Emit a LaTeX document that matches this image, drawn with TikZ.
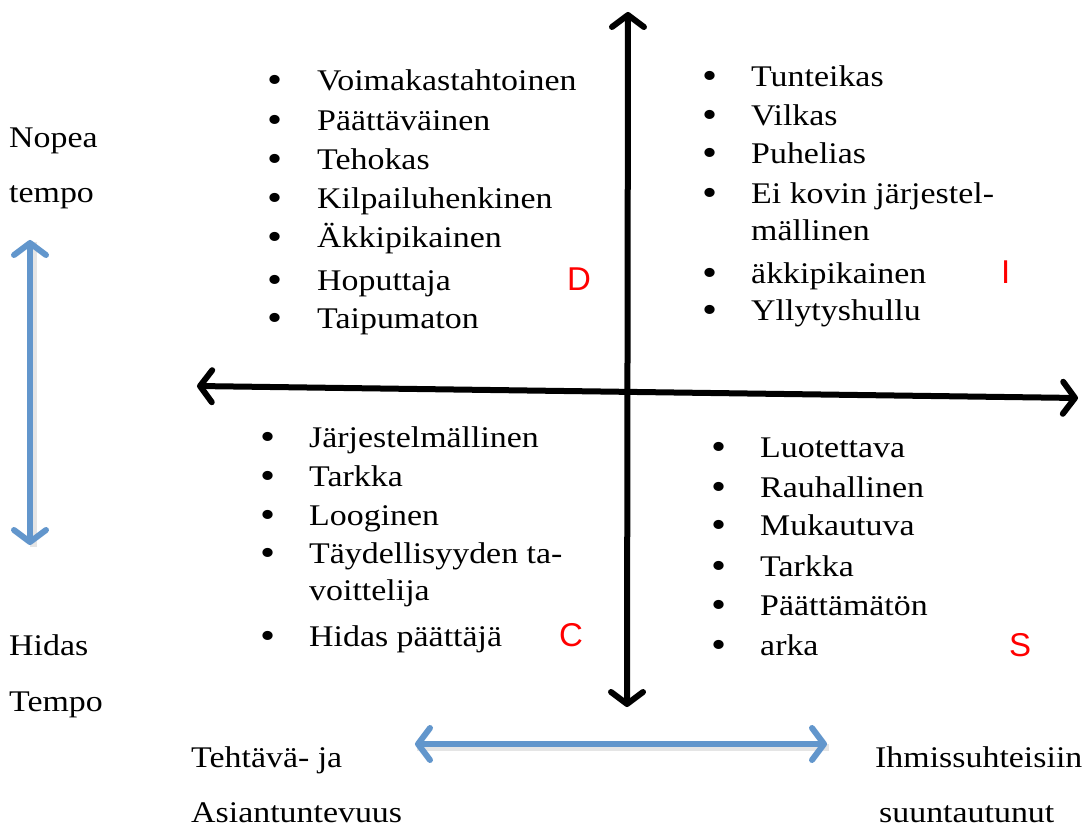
\documentclass[tikz,border=0pt]{standalone}
\usepackage{fontspec}
\setmainfont{Liberation Serif}[FakeStretch=1.13]
\newfontfamily\lettersans{Liberation Sans}
\usetikzlibrary{arrows.meta}
\definecolor{axisblue}{RGB}{98,150,204}
\begin{document}
\begin{tikzpicture}[x=1pt,y=-1pt,
  txt/.style={anchor=base west,inner sep=0pt,font=\fontsize{30}{36}\selectfont},
  dot/.style={anchor=base,inner sep=0pt,font=\fontsize{38}{40}\selectfont},
  quad/.style={anchor=base west,inner sep=0pt,text=red,font=\lettersans\fontsize{33}{36}\selectfont},
  barb/.tip={Straight Barb[length=12,width=32,line width=0pt 1,round]},
  axisline/.style={line width=6pt,black,barb-barb},
  tempoline/.style={line width=6pt,axisblue,barb-barb},
  shade/.style={line width=7pt,black,opacity=0.10}]
\useasboundingbox (0,0) rectangle (1088,827);

% axes
\coordinate (vtop) at (628,12);
\coordinate (vbot) at (627,707);
\coordinate (hleft) at (197,386);
\coordinate (hright) at (1078,398);
\coordinate (tfast) at (30,240);
\coordinate (tslow) at (30,545);
\coordinate (ptask) at (415,744);
\coordinate (ppeople) at (827,744);
\draw[shade] ([shift={(2,3)}]ptask) -- ([shift={(2,3)}]ppeople);
\draw[shade] ([shift={(3,2)}]tfast) -- ([shift={(3,2)}]tslow);
\draw[axisline] (vtop) -- (vbot);
\draw[axisline] (hleft) -- (hright);
\draw[tempoline] (tfast) -- (tslow);
\draw[tempoline] (ptask) -- (ppeople);

% side labels
\node[txt] (nopea) at (9,147) {Nopea};
\node[txt] (tempo1) at (9,202) {tempo};
\node[txt] (hidas) at (9,655) {Hidas};
\node[txt] (tempo2) at (9,711) {Tempo};
\node[txt] (task1) at (191,767) {Tehtävä- ja};
\node[txt] (task2) at (191,822) {Asiantuntevuus};
\node[txt] (people1) at (875,767) {Ihmissuhteisiin};
\node[txt] (people2) at (879,822) {suuntautunut};

% D quadrant
\foreach \t/\y [count=\i] in {Voimakastahtoinen/90,Päättäväinen/130,Tehokas/169,Kilpailuhenkinen/208,Äkkipikainen/247,Hoputtaja/290,Taipumaton/328}{
  \node[dot] (bd\i) at (275,\y+2) {•};
  \node[txt] (d\i) at (317,\y) {\t};
}
\node[quad] (D) at (567,290) {D};

% I quadrant
\foreach \t/\y [count=\i] in {Tunteikas/86,Vilkas/125,Puhelias/163,Ei kovin järjestel-/203,äkkipikainen/283,Yllytyshullu/320}{
  \node[dot] (bi\i) at (710,\y+2) {•};
}
\foreach \t/\y [count=\i] in {Tunteikas/86,Vilkas/125,Puhelias/163,Ei kovin järjestel-/203,mällinen/240,äkkipikainen/283,Yllytyshullu/320}{
  \node[txt] (i\i) at (751,\y) {\t};
}
\node[quad] (I) at (1001,283) {I};

% C quadrant
\foreach \t/\y [count=\i] in {Järjestelmällinen/447,Tarkka/486,Looginen/525,Täydellisyyden ta-/563,Hidas päättäjä/646}{
  \node[dot] (bc\i) at (268,\y+2) {•};
}
\foreach \t/\y [count=\i] in {Järjestelmällinen/447,Tarkka/486,Looginen/525,Täydellisyyden ta-/563,voittelija/600,Hidas päättäjä/646}{
  \node[txt] (c\i) at (309,\y) {\t};
}
\node[quad] (C) at (559,646) {C};

% S quadrant
\foreach \t/\y [count=\i] in {Luotettava/457,Rauhallinen/497,Mukautuva/535,Tarkka/576,Päättämätön/615,arka/655}{
  \node[dot] (bs\i) at (719,\y+2) {•};
  \node[txt] (s\i) at (760,\y) {\t};
}
\node[quad] (S) at (1009,656) {S};
\end{tikzpicture}
\end{document}
